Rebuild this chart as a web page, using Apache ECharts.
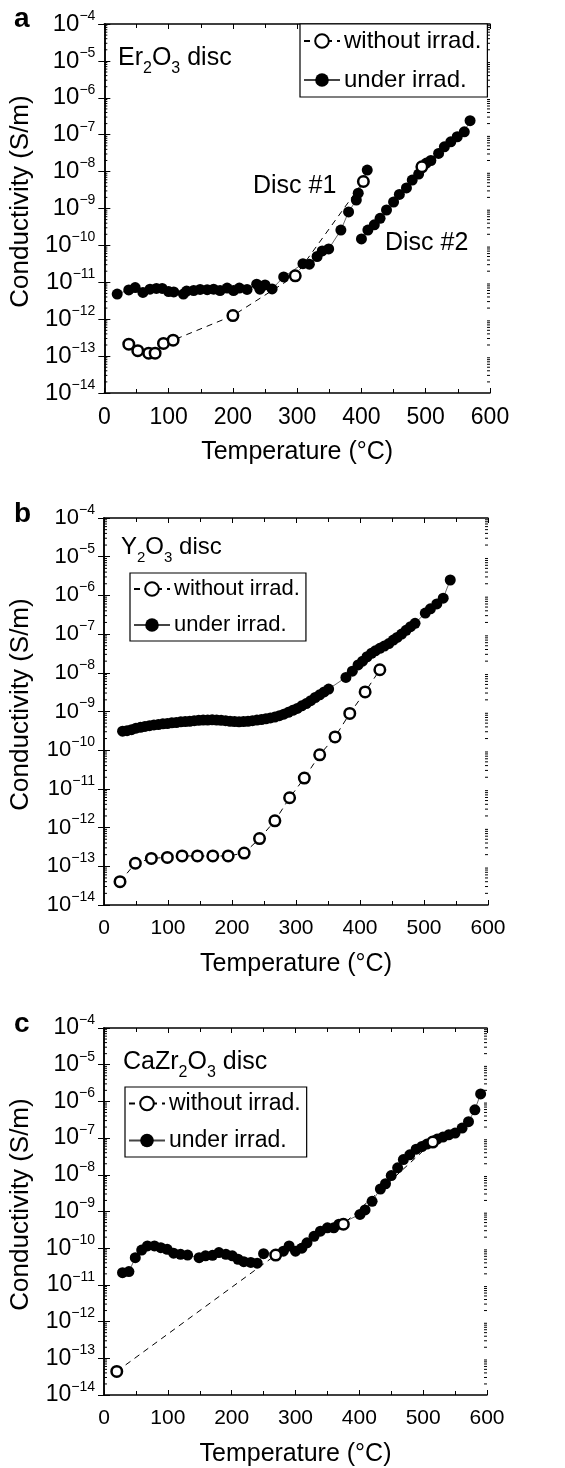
<!DOCTYPE html>
<html>
<head>
<meta charset="utf-8">
<script src="https://cdn.jsdelivr.net/npm/echarts@6/dist/echarts.min.js"></script>
<style>
  html, body { margin: 0; padding: 0; background: #fff; }
  #main { width: 565px; height: 1468px; }
</style>
</head>
<body>
<div id="main"></div>
<script>
// --- data: [temperature (°C), conductivity (S/m)] ---
// a: Er2O3
var erOpen1 = [[38, 2.1e-13], [52, 1.4e-13], [69, 1.2e-13], [79, 1.2e-13], [92, 2.2e-13], [107, 2.7e-13],
  [200, 1.25e-12], [297, 1.5e-11], [403, 5.4e-9]];
var erOpen2 = [[494, 1.35e-8]];
var erIrr1 = [[20, 4.8e-12], [38, 6.2e-12], [48, 7.2e-12], [60, 5.3e-12], [71, 6.5e-12], [81, 6.8e-12],
  [90, 6.8e-12], [100, 5.6e-12], [108, 5.5e-12], [123, 4.8e-12], [128, 5.8e-12], [139, 6.0e-12],
  [149, 6.4e-12], [160, 6.3e-12], [170, 6.5e-12], [180, 6.0e-12], [191, 7.0e-12], [201, 6.0e-12],
  [210, 7.0e-12], [222, 6.4e-12], [237, 8.9e-12], [242, 6.5e-12], [250, 8.5e-12], [261, 6.6e-12],
  [279, 1.4e-11], [309, 3.2e-11], [319, 3.1e-11], [331, 5.0e-11], [339, 7.1e-11], [349, 8.0e-11],
  [368, 2.6e-10], [380, 8.1e-10], [392, 1.7e-9], [395, 2.6e-9], [409, 1.1e-8]];
var erIrr2 = [[400, 1.5e-10], [410, 2.6e-10], [420, 3.6e-10], [429, 5.4e-10], [439, 9.1e-10],
  [450, 1.5e-9], [459, 2.4e-9], [470, 3.6e-9], [479, 5.9e-9], [489, 8.6e-9], [501, 1.7e-8],
  [508, 2.0e-8], [520, 3.1e-8], [529, 4.7e-8], [539, 6.4e-8], [549, 8.8e-8], [560, 1.2e-7], [569, 2.4e-7]];

// b: Y2O3
var yOpen = [[25, 4.0e-14], [49, 1.2e-13], [74, 1.6e-13], [99, 1.7e-13], [122, 1.85e-13], [146, 1.85e-13],
  [170, 1.85e-13], [194, 1.85e-13], [219, 2.2e-13], [243, 5.2e-13], [267, 1.5e-12], [290, 5.9e-12],
  [313, 1.9e-11], [337, 7.6e-11], [361, 2.2e-10], [384, 8.9e-10], [408, 3.2e-9], [431, 1.2e-8]];
var yIrr = [[29, 3.1e-10], [36, 3.2e-10], [43, 3.4e-10], [50, 3.7e-10], [57, 3.9e-10], [64, 4.1e-10],
  [71, 4.3e-10], [78, 4.5e-10], [85, 4.6e-10], [92, 4.8e-10], [99, 4.9e-10], [106, 5.1e-10],
  [113, 5.2e-10], [120, 5.4e-10], [127, 5.5e-10], [134, 5.6e-10], [141, 5.8e-10], [148, 5.9e-10],
  [155, 6.0e-10], [162, 6.0e-10], [169, 6.1e-10], [176, 6.0e-10], [183, 5.9e-10], [190, 5.8e-10],
  [197, 5.6e-10], [204, 5.5e-10], [211, 5.4e-10], [218, 5.5e-10], [225, 5.6e-10], [232, 5.8e-10],
  [239, 6.0e-10], [246, 6.2e-10], [253, 6.5e-10], [260, 6.8e-10], [267, 7.2e-10], [274, 7.8e-10],
  [281, 8.5e-10], [288, 9.5e-10], [295, 1.07e-9], [302, 1.2e-9], [309, 1.4e-9], [316, 1.6e-9],
  [323, 1.9e-9], [330, 2.3e-9], [337, 2.7e-9], [344, 3.2e-9], [351, 3.8e-9], [378, 7.6e-9],
  [388, 1.1e-8], [397, 1.6e-8], [404, 2.0e-8], [411, 2.6e-8], [418, 3.2e-8], [424, 3.7e-8],
  [431, 4.3e-8], [438, 4.9e-8], [445, 5.7e-8], [452, 7.0e-8], [458, 8.2e-8], [465, 1.0e-7],
  [472, 1.25e-7], [479, 1.55e-7], [486, 1.9e-7], [502, 3.5e-7], [510, 4.5e-7], [520, 6.0e-7],
  [530, 8.5e-7], [541, 2.5e-6]];

// c: CaZr2O3
var caOpen = [[20, 4.4e-14], [269, 6.5e-11], [375, 4.5e-10], [515, 7.8e-8]];
var caIrr = [[29, 2.15e-11], [39, 2.3e-11], [49, 5.5e-11], [59, 8.9e-11], [68, 1.15e-10], [79, 1.15e-10],
  [89, 1.03e-10], [99, 9.3e-11], [109, 7.3e-11], [120, 6.8e-11], [131, 6.5e-11], [149, 5.5e-11],
  [159, 6.2e-11], [170, 6.4e-11], [180, 7.6e-11], [191, 6.8e-11], [201, 6.2e-11], [210, 5.0e-11],
  [219, 4.3e-11], [230, 4.1e-11], [240, 3.9e-11], [250, 7.1e-11], [281, 8.3e-11], [290, 1.15e-10],
  [300, 8.3e-11], [310, 1.0e-10], [318, 1.4e-10], [329, 2.1e-10], [339, 2.9e-10], [350, 3.6e-10],
  [360, 3.6e-10], [368, 4.5e-10], [401, 8.3e-10], [409, 1.1e-9], [420, 1.9e-9], [433, 4.1e-9],
  [441, 5.7e-9], [450, 9.5e-9], [460, 1.55e-8], [469, 2.6e-8], [479, 3.5e-8], [489, 5.0e-8],
  [498, 5.9e-8], [506, 6.9e-8], [522, 9.4e-8], [531, 1.07e-7], [540, 1.23e-7], [550, 1.37e-7],
  [561, 1.87e-7], [571, 2.8e-7], [581, 5.9e-7], [590, 1.6e-6]];

var yDecades = [-14, -13, -12, -11, -10, -9, -8, -7, -6, -5, -4];

var FONT = '"Liberation Sans", Arial, sans-serif';
var OPEN = 'without irrad.';
var UNDER = 'under irrad.';

// per panel layout (the three sub-figures are scaled slightly differently)
var panels = [
  { grid: { left: 104, top: 24, width: 386, height: 369 }, k: 1.0, legend: [300, 24] },
  { grid: { left: 103, top: 518, width: 385, height: 387 }, k: 0.93, legend: [130, 573] },
  { grid: { left: 103, top: 1028, width: 384, height: 368 }, k: 0.95, legend: [125, 1087] }
];

// log minor tick values 2..9 in each decade
var minorVals = [];
for (var d = 0; d < yDecades.length - 1; d++) {
  for (var m = 2; m <= 9; m++) {
    minorVals.push([0, m * Math.pow(10, yDecades[d])]);
  }
}

function yLabel(v) {
  var e = Math.round(Math.log(v) / Math.LN10);
  return '{b|10}{s|\u2212' + Math.abs(e) + '}';
}

var xAxes = [], yAxes = [];
panels.forEach(function (p, i) {
  var k = p.k;
  xAxes.push({
    type: 'value', gridIndex: i, min: 0, max: 600, interval: 100,
    name: 'Temperature (\u00b0C)', nameLocation: 'middle', nameGap: 47,
    nameTextStyle: { fontSize: 25, fontFamily: FONT, color: '#000' },
    axisLine: { lineStyle: { color: '#000', width: 1.5 } },
    axisTick: { inside: true, length: 5, lineStyle: { color: '#000' } },
    minorTick: { show: true, splitNumber: 2, length: 4, lineStyle: { color: '#000' } },
    axisLabel: { fontSize: Math.round(22 * k + 0.5), fontFamily: FONT, color: '#000', margin: 13 },
    splitLine: { show: false }
  });
  xAxes.push({
    type: 'value', gridIndex: i, position: 'top', min: 0, max: 600, interval: 100,
    axisLine: { lineStyle: { color: '#000', width: 1.5 } },
    axisTick: { inside: true, length: 5, lineStyle: { color: '#000' } },
    minorTick: { show: true, splitNumber: 2, length: 4, lineStyle: { color: '#000' } },
    axisLabel: { show: false },
    splitLine: { show: false }
  });
  yAxes.push({
    type: 'log', logBase: 10, gridIndex: i, min: 1e-14, max: 1e-4, interval: 1, splitNumber: 10,
    name: 'Conductivity (S/m)', nameLocation: 'middle', nameGap: 70, nameRotate: 90,
    nameTextStyle: { fontSize: 26, fontFamily: FONT, color: '#000', padding: [0, 0, 0, 14] },
    axisLine: { show: true, lineStyle: { color: '#000', width: 1.5 } },
    axisTick: { inside: true, length: 6, lineStyle: { color: '#000' } },
    axisLabel: {
      formatter: yLabel, margin: 9,
      rich: {
        b: { fontSize: Math.round(24 * k), fontFamily: FONT, color: '#000', lineHeight: 30 },
        s: { fontSize: 14, fontFamily: FONT, color: '#000', verticalAlign: 'top', lineHeight: 14 }
      }
    },
    splitLine: { show: false }
  });
  yAxes.push({
    type: 'log', logBase: 10, gridIndex: i, position: 'right', min: 1e-14, max: 1e-4, interval: 1, splitNumber: 10,
    axisLine: { show: true, lineStyle: { color: '#000', width: 1.5 } },
    axisTick: { inside: true, length: 6, lineStyle: { color: '#000' } },
    axisLabel: { show: false },
    splitLine: { show: false }
  });
});

function filled(data, i) {
  return {
    name: UNDER, type: 'line', data: data, xAxisIndex: i * 2, yAxisIndex: i * 2,
    symbol: 'circle', symbolSize: 11, showSymbol: true,
    lineStyle: { color: '#444', width: 0.8 },
    itemStyle: { color: '#000', borderColor: '#000', borderWidth: 0 },
    emphasis: { disabled: true }, z: 3
  };
}
function open(data, i) {
  return {
    name: OPEN, type: 'line', data: data, xAxisIndex: i * 2, yAxisIndex: i * 2,
    symbol: 'circle', symbolSize: 10.5, showSymbol: true,
    lineStyle: { color: '#000', width: 1, type: [6, 5] },
    itemStyle: { color: '#fff', borderColor: '#000', borderWidth: 2.5 },
    emphasis: { disabled: true }, z: 4
  };
}
function minorTicks(i) {
  return {
    type: 'custom', xAxisIndex: i * 2, yAxisIndex: i * 2, data: minorVals, silent: true,
    clip: false, z: 1,
    renderItem: function (params, api) {
      var cs = params.coordSys;
      var y = api.coord([0, api.value(1)])[1];
      var st = { stroke: '#000', lineWidth: 1 };
      return {
        type: 'group', children: [
          { type: 'line', shape: { x1: cs.x, y1: y, x2: cs.x + 3, y2: y }, style: st },
          { type: 'line', shape: { x1: cs.x + cs.width - 3, y1: y, x2: cs.x + cs.width, y2: y }, style: st }
        ]
      };
    }
  };
}

var series = [
  minorTicks(0), minorTicks(1), minorTicks(2),
  filled(erIrr1, 0), filled(erIrr2, 0), open(erOpen1, 0), open(erOpen2, 0),
  filled(yIrr, 1), open(yOpen, 1),
  filled(caIrr, 2), open(caOpen, 2)
];

function legendFor(p) {
  var fs = Math.round(24 * p.k);
  return {
    orient: 'vertical', left: p.legend[0], top: p.legend[1], data: [OPEN, UNDER],
    itemWidth: 36, itemHeight: 17, itemGap: Math.round(13 * p.k),
    padding: [4, 6, 4, 3],
    borderColor: '#000', borderWidth: 1.2, backgroundColor: '#fff',
    textStyle: { fontSize: fs, lineHeight: Math.round(26 * p.k), fontFamily: FONT, color: '#000', padding: [0, 0, 0, -1] },
    selectedMode: false
  };
}

function title(x, y, fs, rich) {
  return {
    type: 'text', left: x, top: y, z: 10,
    style: {
      text: rich,
      rich: {
        n: { fontSize: fs, fontFamily: FONT, color: '#000', lineHeight: 36 },
        u: { fontSize: Math.round(fs * 0.64), fontFamily: FONT, color: '#000', verticalAlign: 'bottom', lineHeight: 14 }
      }
    }
  };
}

var chart = echarts.init(document.getElementById('main'), null, { renderer: 'canvas' });
chart.setOption({
  backgroundColor: '#fff',
  animation: false,
  grid: panels.map(function (p) { return p.grid; }),
  xAxis: xAxes,
  yAxis: yAxes,
  legend: panels.map(legendFor),
  graphic: [
    { type: 'text', left: 14, top: 5, style: { text: 'a', font: 'bold 28px ' + FONT, fill: '#000' } },
    { type: 'text', left: 14, top: 500, style: { text: 'b', font: 'bold 28px ' + FONT, fill: '#000' } },
    { type: 'text', left: 14, top: 1010, style: { text: 'c', font: 'bold 28px ' + FONT, fill: '#000' } },
    title(118, 46, 25, '{n|Er}{u|2}{n|O}{u|3}{n| disc}'),
    title(121, 535, 24, '{n|Y}{u|2}{n|O}{u|3}{n| disc}'),
    title(123, 1050, 25, '{n|CaZr}{u|2}{n|O}{u|3}{n| disc}'),
    { type: 'text', left: 253, top: 174, style: { text: 'Disc #1', font: '25px ' + FONT, fill: '#000' } },
    { type: 'text', left: 385, top: 231, style: { text: 'Disc #2', font: '25px ' + FONT, fill: '#000' } }
  ],
  series: series
});
</script>
</body>
</html>
